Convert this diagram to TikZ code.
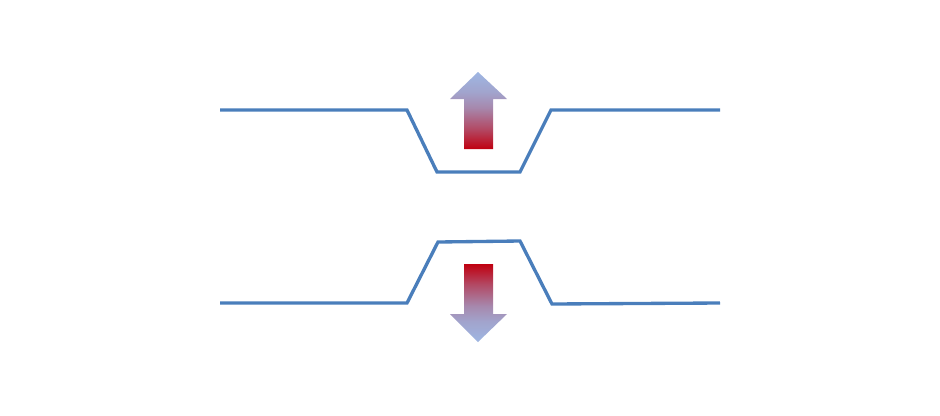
\documentclass[tikz,border=0pt]{standalone}
\definecolor{lineblue}{HTML}{4A7EBB}
\definecolor{arrred}{HTML}{C00010}
\definecolor{arrblue}{HTML}{9EB6E2}
\pgfdeclareverticalshading{arrowup}{100bp}{color(0bp)=(arrred); color(25bp)=(arrred); color(38bp)=(arrblue!40!arrred); color(52bp)=(arrblue!75!arrred); color(62bp)=(arrblue!90!arrred); color(75bp)=(arrblue); color(100bp)=(arrblue)}
\pgfdeclareverticalshading{arrowdown}{100bp}{color(0bp)=(arrblue); color(25bp)=(arrblue); color(38bp)=(arrblue!90!arrred); color(48bp)=(arrblue!75!arrred); color(62bp)=(arrblue!40!arrred); color(75bp)=(arrred); color(100bp)=(arrred)}
\tikzset{
  wire/.style={draw=lineblue, line width=2.5pt, line join=miter},
}
\begin{document}
\begin{tikzpicture}[x=0.75pt,y=-0.75pt]
\useasboundingbox (0,0) rectangle (940,415);
% top channel
\draw[wire] (220,110) -- (407,110) -- (437,172) -- (520,172) -- (551,110) -- (720,110);
% bottom channel
\draw[wire] (220,303) -- (407,303) -- (438,242) -- (520,241) -- (552,304) -- (720,303);
% up arrow
\shade[shading=arrowup]
  (478,72) -- (507,99) -- (493,99) -- (493,149) -- (464,149) -- (464,99) -- (450,99) -- cycle;
% down arrow
\shade[shading=arrowdown]
  (464,264) -- (493,264) -- (493,314) -- (507,314) -- (478,342) -- (450,314) -- (464,314) -- cycle;
\end{tikzpicture}
\end{document}
